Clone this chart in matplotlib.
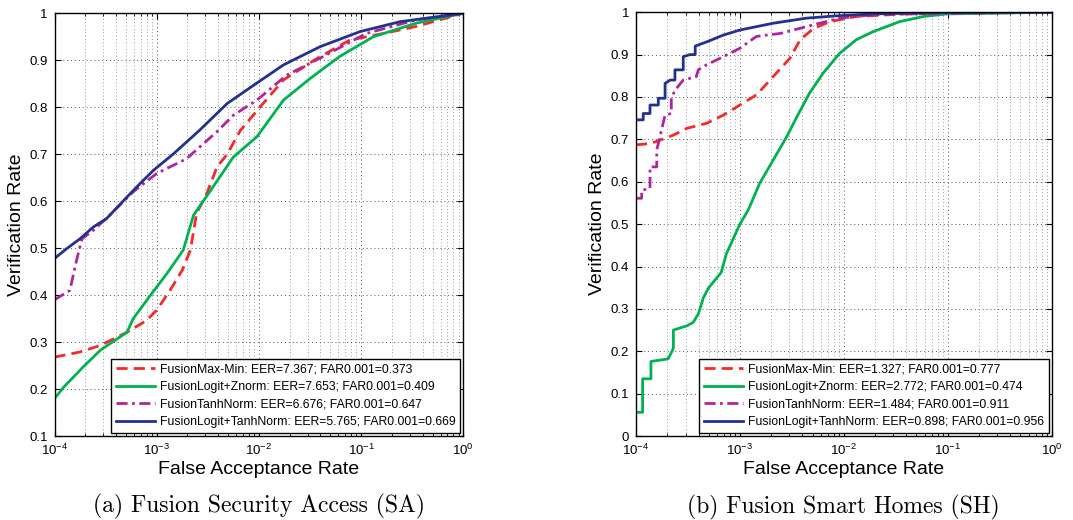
import matplotlib

matplotlib.use("Agg", force=True)
import matplotlib.pyplot as plt
import numpy as np
from matplotlib.ticker import LogLocator, MultipleLocator, NullFormatter

plt.rcParams["font.family"] = ["Liberation Sans", "DejaVu Sans"]
plt.rcParams["mathtext.fontset"] = "custom"
plt.rcParams["mathtext.rm"] = "Liberation Sans"
plt.rcParams["mathtext.it"] = "Liberation Sans"

# ---- data: log10(FAR) and verification rate ----
# (a) Fusion Security Access
sa_maxmin_x = [-4, -3.75, -3.55, -3.29, -3.10, -3.0, -2.87, -2.75, -2.67, -2.61, -2.51, -2.41, -2.31,
               -2.18, -1.99, -1.76, -1.43, -1.11, -0.78, -0.46, 0]
sa_maxmin_y = [0.268, 0.279, 0.293, 0.321, 0.346, 0.368, 0.41, 0.453, 0.496, 0.574, 0.616, 0.673, 0.70,
               0.751, 0.80, 0.858, 0.904, 0.943, 0.957, 0.972, 1.0]
sa_znorm_x = [-4, -3.91, -3.72, -3.55, -3.29, -3.23, -3.06, -2.90, -2.74, -2.64, -2.45, -2.25, -2.02,
              -1.76, -1.50, -1.21, -0.88, -0.46, 0]
sa_znorm_y = [0.18, 0.204, 0.247, 0.283, 0.321, 0.35, 0.40, 0.446, 0.496, 0.57, 0.63, 0.694, 0.737,
              0.815, 0.861, 0.908, 0.95, 0.979, 1.0]
sa_tanh_x = [-4, -3.85, -3.78, -3.73, -3.62, -3.46, -3.23, -3.0, -2.71, -2.41, -2.25, -2.02, -1.73,
             -1.37, -0.95, -0.46, 0]
sa_tanh_y = [0.39, 0.41, 0.478, 0.52, 0.538, 0.57, 0.62, 0.659, 0.69, 0.748, 0.783, 0.815, 0.868,
             0.908, 0.957, 0.986, 1.0]
sa_logtanh_x = [-4, -3.88, -3.75, -3.62, -3.49, -3.29, -3.16, -3.03, -2.84, -2.58, -2.31, -2.05, -1.76,
                -1.40, -1.01, -0.62, 0]
sa_logtanh_y = [0.478, 0.499, 0.52, 0.545, 0.563, 0.609, 0.638, 0.666, 0.70, 0.751, 0.808, 0.847, 0.890,
                0.929, 0.961, 0.982, 1.0]

# (b) Fusion Smart Homes
sh_maxmin_x = [-4, -3.865, -3.77, -3.64, -3.51, -3.32, -3.16, -3.0, -2.84, -2.68, -2.52, -2.42, -2.29,
               -2.13, -1.88, -1.40, 0]
sh_maxmin_y = [0.687, 0.69, 0.698, 0.71, 0.726, 0.738, 0.757, 0.781, 0.805, 0.848, 0.891, 0.935, 0.962,
               0.978, 0.99, 0.996, 1.0]
sh_znorm_x = [-4, -3.936, -3.936, -3.856, -3.856, -3.69, -3.64, -3.64, -3.51, -3.45, -3.40, -3.35, -3.30,
              -3.26, -3.18, -3.13, -3.0, -2.92, -2.81, -2.68, -2.55, -2.45, -2.33, -2.20, -2.04, -1.88,
              -1.72, -1.46, -1.23, -1.01, 0]
sh_znorm_y = [0.056, 0.056, 0.135, 0.135, 0.176, 0.182, 0.207, 0.25, 0.26, 0.268, 0.288, 0.327, 0.35,
              0.362, 0.386, 0.43, 0.50, 0.533, 0.596, 0.651, 0.706, 0.754, 0.809, 0.856, 0.903, 0.935,
              0.954, 0.978, 0.99, 0.996, 1.0]
sh_tanh_x = [-4, -3.945, -3.945, -3.865, -3.865, -3.80, -3.80, -3.72, -3.66, -3.66, -3.61, -3.545, -3.42,
             -3.40, -3.32, -3.16, -3.0, -2.84, -2.61, -2.36, -2.04, -1.72, -1.40, 0]
sh_tanh_y = [0.561, 0.561, 0.58, 0.584, 0.635, 0.635, 0.675, 0.757, 0.761, 0.80, 0.82, 0.84, 0.848,
             0.864, 0.876, 0.895, 0.915, 0.943, 0.95, 0.966, 0.986, 0.994, 0.996, 1.0]
sh_logtanh_x = [-4, -3.93, -3.93, -3.865, -3.865, -3.785, -3.785, -3.72, -3.72, -3.67, -3.625, -3.625,
                -3.545, -3.545, -3.48, -3.43, -3.43, -3.32, -3.16, -3.0, -2.68, -2.36, -2.04, -1.72,
                -1.08, 0]
sh_logtanh_y = [0.746, 0.746, 0.761, 0.761, 0.781, 0.781, 0.797, 0.797, 0.832, 0.84, 0.84, 0.864,
                0.864, 0.895, 0.90, 0.90, 0.92, 0.93, 0.946, 0.958, 0.974, 0.986, 0.992, 0.996,
                0.999, 1.0]

sa_labels = [
    "FusionMax-Min: EER=7.367; FAR0.001=0.373",
    "FusionLogit+Znorm: EER=7.653; FAR0.001=0.409",
    "FusionTanhNorm: EER=6.676; FAR0.001=0.647",
    "FusionLogit+TanhNorm: EER=5.765; FAR0.001=0.669",
]
sh_labels = [
    "FusionMax-Min: EER=1.327; FAR0.001=0.777",
    "FusionLogit+Znorm: EER=2.772; FAR0.001=0.474",
    "FusionTanhNorm: EER=1.484; FAR0.001=0.911",
    "FusionLogit+TanhNorm: EER=0.898; FAR0.001=0.956",
]

colors = ["#f42a2a", "#00b14f", "#b0259b", "#24308f"]
styles = [(0, (4, 2.2)), "-", (0, (4, 1.6, 1, 1.6)), "-"]


def draw_panel(ax, series, labels, ymin, caption):
    for (xs, ys), label, color, ls in zip(series, labels, colors, styles):
        ax.plot(10 ** np.asarray(xs), ys, color=color, linestyle=ls, linewidth=2.0, label=label)
    ax.set_xscale("log")
    ax.set_xlim(1e-4, 1)
    ax.set_ylim(ymin, 1)
    ax.xaxis.set_major_locator(LogLocator(base=10, numticks=10))
    ax.xaxis.set_minor_locator(LogLocator(base=10, subs=np.arange(2, 10), numticks=20))
    ax.xaxis.set_minor_formatter(NullFormatter())
    ax.yaxis.set_major_locator(MultipleLocator(0.1))
    ax.yaxis.set_major_formatter(plt.FuncFormatter(lambda v, p: f"{v:g}"))
    ax.grid(True, which="major", linestyle=(0, (1, 3)), color="#555555", linewidth=0.7)
    ax.grid(True, which="minor", axis="x", linestyle=(0, (1, 3)), color="#777777", linewidth=0.6)
    ax.tick_params(which="both", direction="in", top=True, right=True, labelsize=9.5, pad=5)
    ax.tick_params(which="major", length=4)
    ax.tick_params(which="minor", length=2)
    for spine in ax.spines.values():
        spine.set_linewidth(1.0)
    ax.set_xlabel("False Acceptance Rate", fontsize=14, labelpad=2)
    ax.set_ylabel("Verification Rate", fontsize=14, labelpad=3)
    leg = ax.legend(loc="lower right", fontsize=8.8, handlelength=3.2, borderaxespad=0.25,
                    fancybox=False, framealpha=1, edgecolor="black", labelspacing=0.45,
                    borderpad=0.4, handletextpad=0.4)
    leg.get_frame().set_linewidth(1.0)
    ax.text(0.5, -0.138, caption, transform=ax.transAxes, ha="center", va="top",
            fontsize=17, family=["cmr10", "DejaVu Serif"])


fig = plt.figure(figsize=(10.73, 5.2), dpi=100)
ax_a = fig.add_axes([0.0508, 0.1615, 0.381, 0.813])
ax_b = fig.add_axes([0.5927, 0.1615, 0.3874, 0.815])

draw_panel(ax_a, [(sa_maxmin_x, sa_maxmin_y), (sa_znorm_x, sa_znorm_y), (sa_tanh_x, sa_tanh_y),
                  (sa_logtanh_x, sa_logtanh_y)], sa_labels, 0.1, "(a) Fusion Security Access (SA)")
draw_panel(ax_b, [(sh_maxmin_x, sh_maxmin_y), (sh_znorm_x, sh_znorm_y), (sh_tanh_x, sh_tanh_y),
                  (sh_logtanh_x, sh_logtanh_y)], sh_labels, 0.0, "(b) Fusion Smart Homes (SH)")

fig.savefig("out.png", dpi=100)
